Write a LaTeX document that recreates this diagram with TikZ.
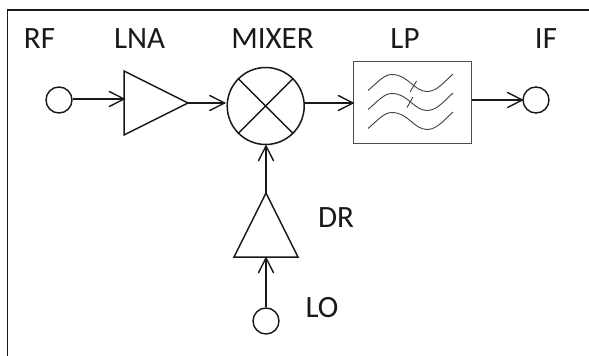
\documentclass[tikz,border=0pt]{standalone}
\usepackage{fontspec}
\setmainfont{Carlito}
\tikzset{
  x=1pt,y=-1pt,
  wire/.style={line width=1.4pt,draw=black!90},
  port/.style={circle,draw=black!90,line width=1.4pt,minimum size=26pt,inner sep=0pt,fill=white},
  lbl/.style={font=\fontsize{31}{36}\selectfont,text=black!90,inner sep=0pt,anchor=base},
  tip/.style={line width=1.4pt,draw=black!90,line cap=round},
  wave/.style={line width=.9pt,draw=black!75}
}
\newcommand{\opentip}[2]{\draw[tip] (#1) ++(#2+153:16.5pt) -- (#1) -- ++(#2-153:16.5pt);}
\begin{document}
\begin{tikzpicture}
\useasboundingbox (0,0) rectangle (589,356);
\fill[white] (0,0) rectangle (589,356);
\coordinate (fa) at (7.5,356);
\coordinate (fb) at (7.5,10);
\coordinate (fc) at (589,10);
\draw[line width=1.5pt,draw=black!90] (fa) -- (fb) -- (fc);
\node[lbl] (trf) at (39.5,48) {RF};
\node[lbl] (tlna) at (139.5,48) {LNA};
\node[lbl] (tmix) at (272.5,48) {MIXER};
\node[lbl] (tlp) at (405,48) {LP};
\node[lbl] (tif) at (546,48) {IF};
\node[lbl] (tdr) at (336,227) {DR};
\node[lbl] (tlo) at (322,317) {LO};
\node[port] (rf) at (59,100) {};
\node[port] (if) at (536,100) {};
\node[port] (lo) at (266,321) {};
\draw[line width=1.5pt,draw=black!90] (124,71) coordinate (a1) -- (188,103) coordinate (a2) -- (124,135) coordinate (a3) -- cycle;
\coordinate (a1in) at (124,99);
\node[circle,draw=black!90,line width=1.5pt,minimum size=77pt,inner sep=0pt] (mix) at (265.7,106) {};
\draw[wire] (mix.45) -- (mix.225) (mix.135) -- (mix.315);
\draw[line width=1.5pt,draw=black!90] (266,193) coordinate (d1) -- (298,257) coordinate (d2) -- (234,257) coordinate (d3) -- cycle;
\coordinate (d1in) at (266,258);
\node[draw=black!70,line width=1.1pt,minimum width=118pt,minimum height=82pt,inner sep=0pt,anchor=north west] (lp) at (353,61) {};
\coordinate (mixin) at (224.5,103);
\coordinate (mixout) at (304,103);
\coordinate (lpin) at (353,103);
\coordinate (lpout) at (472,100);
\coordinate (mixbot) at (266,146);
\coordinate (rfout) at (73,99);
\draw[wire] (rfout) -- (a1in); \opentip{a1in}{0}
\draw[wire] (a2) -- (mixin); \opentip{mixin}{0}
\draw[wire] (mixout) -- (lpin); \opentip{lpin}{0}
\draw[wire] (lpout) -- (if.west); \opentip{if.west}{0}
\draw[wire] (d1) -- (mixbot); \opentip{mixbot}{90}
\draw[wire] (lo.north) -- (d1in); \opentip{d1in}{90}
\foreach \dy in {0,19,38}{
 \draw[wave] (368,90.5+\dy) .. controls (378,82+\dy) and (384,74.5+\dy) .. (392,74.5+\dy) .. controls (408,74.5+\dy) and (414,91.5+\dy) .. (427,91.5+\dy) .. controls (437,91.5+\dy) and (444,82+\dy) .. (453,74+\dy);
}
\draw[wave] (410,92) -- (416.5,81);
\draw[wave] (407,107.5) -- (413,97);
\end{tikzpicture}
\end{document}
